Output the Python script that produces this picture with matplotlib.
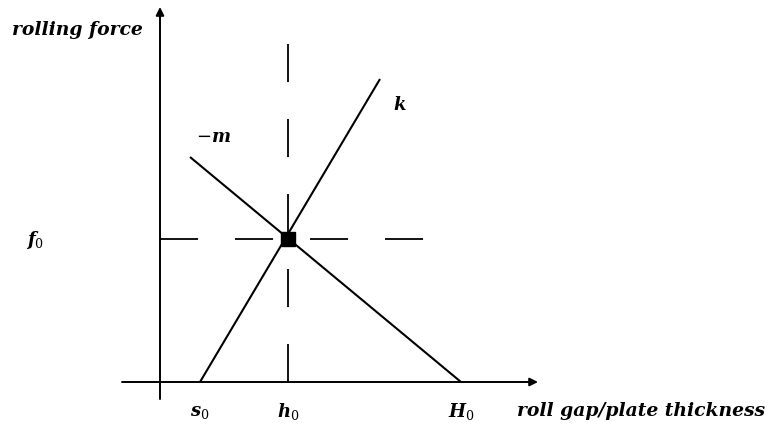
import matplotlib
matplotlib.use("Agg")
import matplotlib.pyplot as plt

plt.rcParams['mathtext.fontset'] = 'custom'
plt.rcParams['mathtext.it'] = 'DejaVu Serif:italic:bold'
plt.rcParams['mathtext.rm'] = 'DejaVu Serif'
plt.rcParams['mathtext.bf'] = 'DejaVu Serif:bold'
plt.rcParams['lines.scale_dashes'] = False

# key positions on the axes (diagram units)
s0 = 40
h0 = 128
H0 = 301
f0 = 143

# mill stiffness line (k) and plate line (-m)
k_x = [s0, 220]
k_y = [0, 303]
m_x = [30, H0]
m_y = [225, 0]

# axis extents
x_axis = [-38, 378]
y_axis = [-17, 375]
vline_top = 338
hline_end = 265

tick_labels = [r'$s_0$', r'$h_0$', r'$H_0$']
tick_pos = [s0, h0, H0]

fig = plt.figure(figsize=(7.77, 4.35), dpi=100)
ax = fig.add_axes([0, 0, 1, 1])
ax.set_xlim(-160, 617)
ax.set_ylim(-52, 383)
ax.axis('off')

arrow = dict(arrowstyle='-|>', color='black', lw=1.4, mutation_scale=12,
             shrinkA=0, shrinkB=0)
ax.annotate('', xy=(x_axis[1], 0), xytext=(x_axis[0], 0), arrowprops=arrow)
ax.annotate('', xy=(0, y_axis[1]), xytext=(0, y_axis[0]), arrowprops=arrow)

ax.plot(k_x, k_y, color='black', lw=1.5, solid_capstyle='butt')
ax.plot(m_x, m_y, color='black', lw=1.5, solid_capstyle='butt')

dash = (0, (27.4, 26.6))
ax.plot([h0, h0], [vline_top, 0], color='black', lw=1.3, linestyle=dash)
ax.plot([0, hline_end], [f0, f0], color='black', lw=1.3, linestyle=dash)

ax.plot([h0], [f0], marker='s', markersize=10, color='black', zorder=5)

for lab, x in zip(tick_labels, tick_pos):
    ax.text(x, -29, lab, fontsize=13, ha='center', va='center')
ax.text(-125, f0, r'$f_0$', fontsize=13, ha='center', va='center')

ax.text(-148, 353, 'rolling force', fontsize=13.5, family='DejaVu Serif',
        style='italic', weight='bold', ha='left', va='center')
ax.text(357, -28, 'roll gap/plate thickness', fontsize=13.5,
        family='DejaVu Serif', style='italic', weight='bold',
        ha='left', va='center')
ax.text(53, 246, r'$-m$', fontsize=13, ha='center', va='center')
ax.text(240, 278, r'$k$', fontsize=13, ha='center', va='center')

fig.savefig('out.png', dpi=100)
